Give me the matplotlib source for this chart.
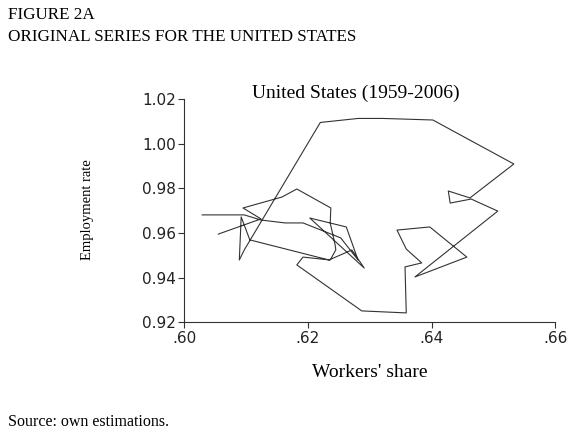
import matplotlib
matplotlib.use("Agg")
import matplotlib.pyplot as plt

# Workers' share (x) and employment rate (y), 1959-2006 path
workers_share = [0.6029, 0.6097, 0.6124, 0.6163, 0.6192, 0.6253, 0.6281, 0.6262,
                 0.6203, 0.6291, 0.6271, 0.6234, 0.6106, 0.6092, 0.6089, 0.6097,
                 0.6220, 0.6281, 0.6321, 0.6357, 0.6402, 0.6533, 0.6462, 0.6427,
                 0.6430, 0.6464, 0.6507, 0.6373, 0.6457, 0.6397, 0.6344, 0.6359,
                 0.6384, 0.6357, 0.6359, 0.6287, 0.6182, 0.6192, 0.6236, 0.6245,
                 0.6244, 0.6236, 0.6237, 0.6182, 0.6158, 0.6095, 0.6124, 0.6055]
employment_rate = [0.9681, 0.9681, 0.9658, 0.9645, 0.9645, 0.9578, 0.9479, 0.9627,
                   0.9667, 0.9443, 0.9524, 0.9479, 0.9569, 0.9672, 0.9479, 0.9524,
                   1.0095, 1.0113, 1.0113, 1.0110, 1.0106, 0.9909, 0.9757, 0.9788,
                   0.9734, 0.9752, 0.9698, 0.9403, 0.9492, 0.9627, 0.9613, 0.9528,
                   0.9466, 0.9448, 0.9242, 0.9251, 0.9457, 0.9492, 0.9479, 0.9524,
                   0.9546, 0.9645, 0.9712, 0.9797, 0.9761, 0.9712, 0.9663, 0.9595]

x_ticks = [0.60, 0.62, 0.64, 0.66]
x_tick_labels = [".60", ".62", ".64", ".66"]
y_ticks = [0.92, 0.94, 0.96, 0.98, 1.00, 1.02]
y_tick_labels = ["0.92", "0.94", "0.96", "0.98", "1.00", "1.02"]

serif = ["Liberation Serif", "DejaVu Serif"]

fig = plt.figure(figsize=(5.75, 4.36), dpi=100)
ax = fig.add_axes([0.3205, 0.2608, 0.6452, 0.5121])

ax.plot(workers_share, employment_rate, color="#333333", linewidth=0.8)

ax.set_xlim(0.60, 0.66)
ax.set_ylim(0.92, 1.02)
ax.set_xticks(x_ticks)
ax.set_xticklabels(x_tick_labels)
ax.set_yticks(y_ticks)
ax.set_yticklabels(y_tick_labels)
for s in ["top", "right"]:
    ax.spines[s].set_visible(False)
for s in ["left", "bottom"]:
    ax.spines[s].set_linewidth(0.8)
    ax.spines[s].set_color("#333333")
ax.tick_params(axis="both", direction="out", length=4, width=0.8, color="#333333",
               labelsize=11, pad=2, labelcolor="#222222")
for lab in ax.get_xticklabels() + ax.get_yticklabels():
    lab.set_family("DejaVu Sans")

ax.set_xlabel("Workers' share", family=serif, fontsize=14)
ax.xaxis.set_label_coords(0.5, -0.187)
ax.set_ylabel("Employment rate", family=serif, fontsize=10.5)
ax.yaxis.set_label_coords(-0.243, 0.503)

fig.text(356 / 575, 1 - 93 / 436, "United States (1959-2006)", family=serif,
         fontsize=14, ha="center", va="center")
fig.text(8 / 575, 1 - 15 / 436, "FIGURE 2A", family=serif, fontsize=12.3,
         ha="left", va="center")
fig.text(8 / 575, 1 - 37 / 436, "ORIGINAL SERIES FOR THE UNITED STATES", family=serif,
         fontsize=12.3, ha="left", va="center")
fig.text(8 / 575, 1 - 422 / 436, "Source: own estimations.", family=serif, fontsize=11.5,
         ha="left", va="center")

fig.savefig("out.png", dpi=100)
